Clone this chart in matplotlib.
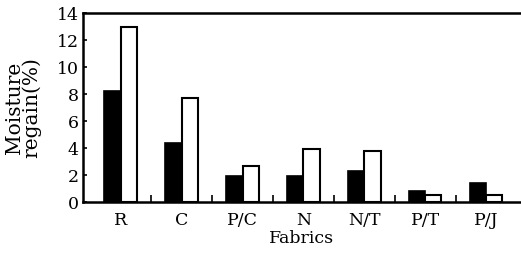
import matplotlib
matplotlib.use("Agg")
import matplotlib.pyplot as plt
import numpy as np

categories = ["R", "C", "P/C", "N", "N/T", "P/T", "P/J"]
black_vals = [8.2, 4.4, 1.9, 1.9, 2.3, 0.8, 1.4]
white_vals = [13.0, 7.7, 2.7, 3.9, 3.8, 0.5, 0.5]
yticks = [0, 2, 4, 6, 8, 10, 12, 14]

plt.rcParams['font.family'] = ['DejaVu Serif']
fs = 12.5

fig = plt.figure(figsize=(5.21, 2.62), dpi=100)
ax = fig.add_axes([0.159, 0.229, 0.841, 0.721])

x = np.arange(len(categories))
w = 0.265
ax.bar(x - w/2, black_vals, width=w, color="black", edgecolor="black", linewidth=1.2)
ax.bar(x + w/2, white_vals, width=w, color="white", edgecolor="black", linewidth=1.5)

ax.set_xlim(-0.62, 6.57)
ax.set_ylim(0, 14)
ax.set_yticks(yticks)
ax.set_yticklabels([str(v) for v in yticks], fontsize=fs)
ax.set_xticks(x)
ax.set_xticklabels(categories, fontsize=fs)
ax.set_xticks(x[:-1] + 0.5, minor=True)
ax.tick_params(axis='x', which='major', length=0, pad=7)
ax.tick_params(axis='x', which='minor', direction='in', length=5, width=1.2)
ax.tick_params(axis='y', direction='in', length=3, width=1.2, pad=3)
for s in ["left", "bottom", "top"]:
    ax.spines[s].set_linewidth(1.8)
ax.spines["right"].set_visible(False)

ax.set_xlabel("Fabrics", fontsize=fs, labelpad=1)
ax.set_ylabel("Moisture\nregain(%)", fontsize=14.5, linespacing=0.85)
ax.yaxis.set_label_coords(-0.094, 0.5)

fig.savefig("out.png", dpi=100)
